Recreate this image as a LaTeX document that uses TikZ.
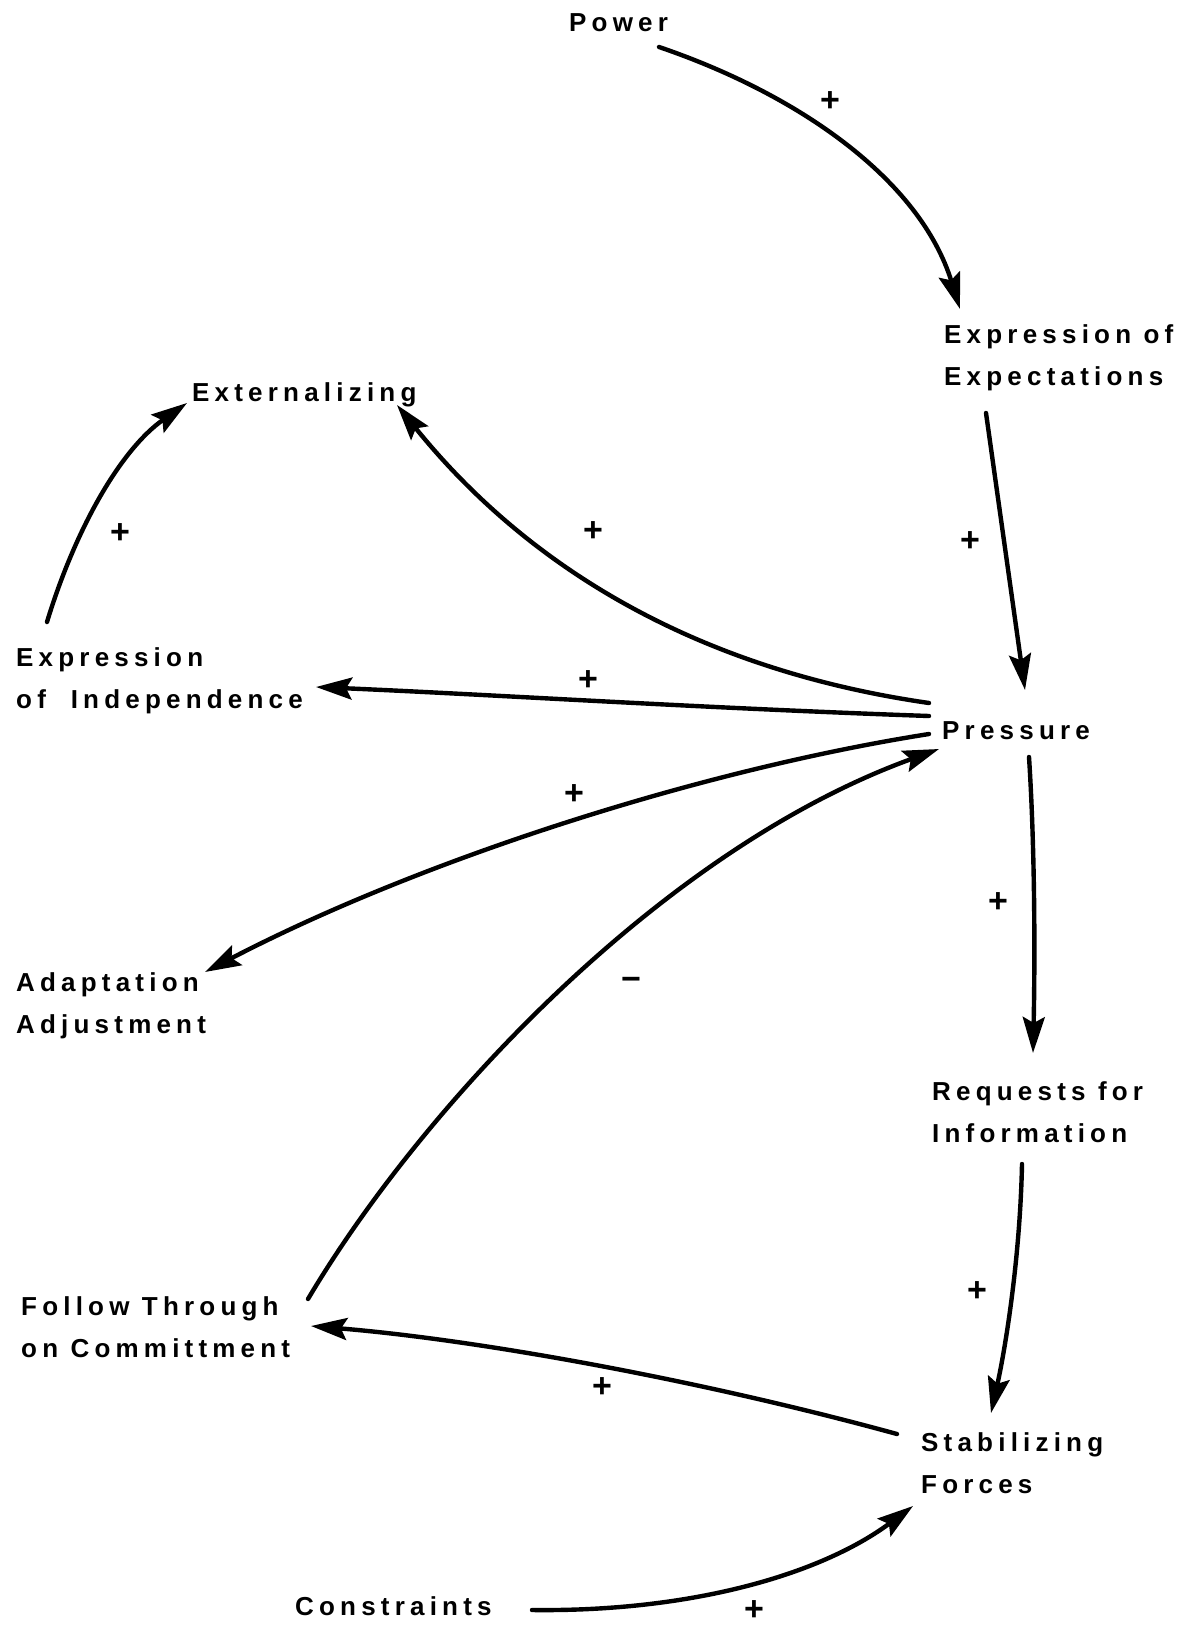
\documentclass[tikz,border=0pt]{standalone}
\usepackage{fontspec}
\newfontfamily\lbl{Liberation Sans}[LetterSpace=20]
\newfontfamily\sgn{Liberation Sans}
\usetikzlibrary{arrows.meta,calc}
\tikzset{
  lab/.style={inner sep=0pt, anchor=west, align=left, font=\lbl\bfseries\fontsize{26}{42}\selectfont},
  sign/.style={inner sep=0pt, font=\sgn\bfseries\fontsize{34}{34}\selectfont},
  arr/.style={line width=4.4pt, line cap=round, -{Stealth[length=36pt,width=22pt,inset=6pt]}}
}
\begin{document}
\begin{tikzpicture}[x=1pt,y=-1pt]
\useasboundingbox[fill=white] (0,0) rectangle (1191,1627);
% nodes
\node[lab] (power)  at (569,23)   {Power};
\node[lab] (expect) at (944,358)  {Expression of\\Expectations};
\node[lab] (ext)    at (192,395)  {Externalizing};
\node[lab] (indep)  at (16,681)   {Expression\\of\ \ Independence};
\node[lab] (press)  at (942,731)  {Pressure};
\node[lab] (adapt)  at (16,1006)  {Adaptation\\Adjustment};
\node[lab] (req)    at (932,1112) {Requests for\\Information};
\node[lab] (follow) at (21,1327)  {Follow Through\\on Committment};
\node[lab] (stab)   at (921,1463) {Stabilizing\\Forces};
\node[lab] (cons)   at (295,1606) {Constraints};
% connectors
\draw[arr] ([shift={(90,24)}]power.west) .. controls (800,95) and (920,180) .. ([shift={(16,-49)}]expect.west);
\draw[arr] ([shift={(42,55)}]expect.west) -- ([shift={(83,-41)}]press.west);
\draw[arr] ([shift={(-13,-28)}]press.west) .. controls (700,670) and (530,570) .. ([shift={(205,10)}]ext.west);
\draw[arr] ([shift={(-13,-15)}]press.west) .. controls (700,708) and (500,695) .. ([shift={(300,6)}]indep.west);
\draw[arr] ([shift={(-13,3)}]press.west) .. controls (700,770) and (420,860) .. ([shift={(189,-34)}]adapt.west);
\draw[arr] ([shift={(287,-28)}]follow.west) .. controls (420,1110) and (660,850) .. ([shift={(-3,18)}]press.west);
\draw[arr] ([shift={(87,26)}]press.west) .. controls (1035,850) and (1035,960) .. ([shift={(101,-59)}]req.west);
\draw[arr] ([shift={(90,52)}]req.west) .. controls (1020,1260) and (1005,1350) .. ([shift={(70,-50)}]stab.west);
\draw[arr] ([shift={(-24,-29)}]stab.west) .. controls (700,1380) and (480,1340) .. ([shift={(290,-1)}]follow.west);
\draw[arr] ([shift={(237,4)}]cons.west) .. controls (690,1612) and (820,1575) .. ([shift={(-8,43)}]stab.west);
\draw[arr] ([shift={(31,-59)}]indep.west) .. controls (75,530) and (120,450) .. ([shift={(-5,8)}]ext.west);
% signs
\node[sign] (s1)  at (830,102)  {+};
\node[sign] (s2)  at (970,542)  {+};
\node[sign] (s3)  at (593,532)  {+};
\node[sign] (s4)  at (588,681)  {+};
\node[sign] (s5)  at (574,795)  {+};
\node[sign] (s6)  at (631,984)  {−};
\node[sign] (s7)  at (998,903)  {+};
\node[sign] (s8)  at (977,1292) {+};
\node[sign] (s9)  at (602,1388) {+};
\node[sign] (s10) at (754,1611) {+};
\node[sign] (s11) at (120,534)  {+};
\end{tikzpicture}
\end{document}
